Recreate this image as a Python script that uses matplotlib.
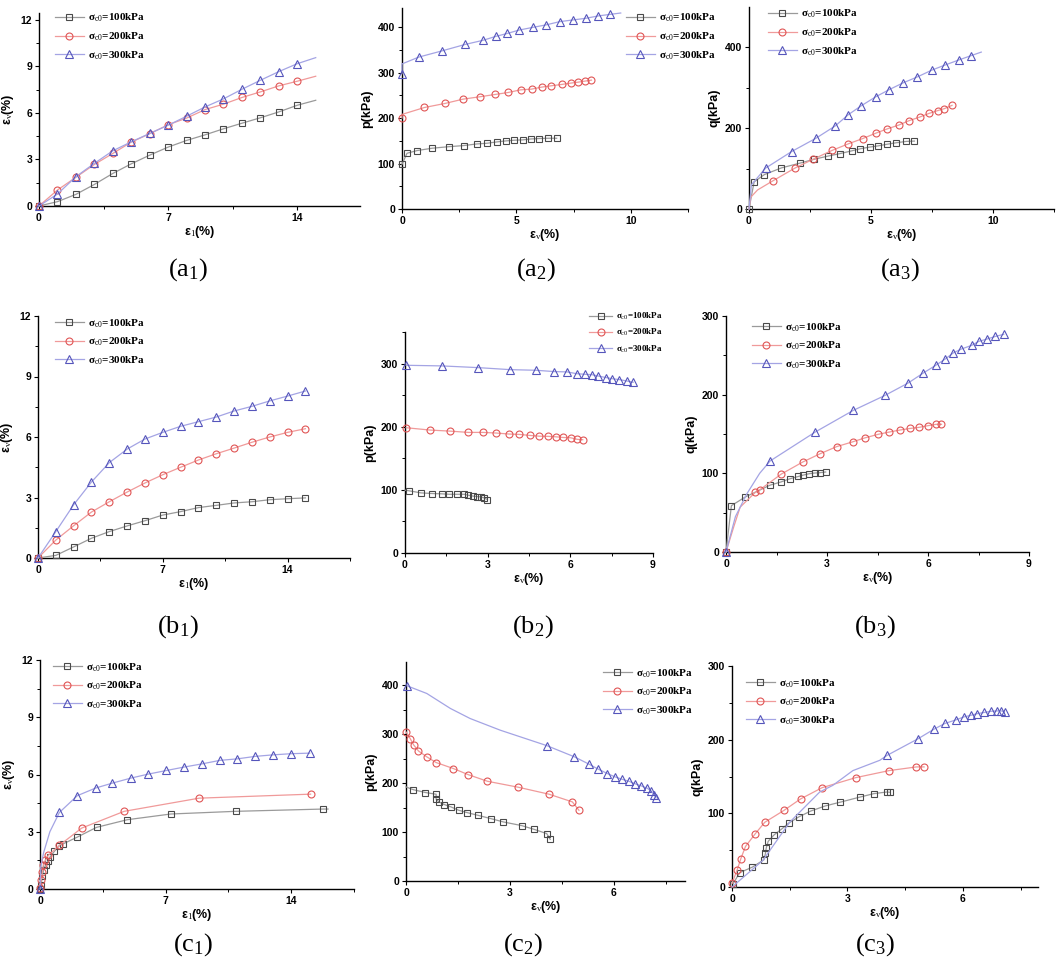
import matplotlib
matplotlib.use("Agg")
import matplotlib.pyplot as plt
from matplotlib.ticker import MultipleLocator

plt.rcParams['mathtext.fontset'] = 'custom'
plt.rcParams['mathtext.rm'] = 'Liberation Serif'
plt.rcParams['mathtext.it'] = 'Liberation Serif:italic'
plt.rcParams['mathtext.bf'] = 'Liberation Serif:bold'

# ---------------- data ----------------
labels = ["σ$_{\\rm c0}$=100kPa", "σ$_{\\rm c0}$=200kPa", "σ$_{\\rm c0}$=300kPa"]

# (a1) e1 - ev
a1_e1 = [0, 1, 2, 3, 4, 5, 6, 7, 8, 9, 10, 11, 12, 13, 14, 15]
a1_ev100 = [0, 0.28, 0.75, 1.39, 2.10, 2.72, 3.28, 3.80, 4.23, 4.59, 4.98, 5.34, 5.69, 6.07, 6.50, 6.82]
a1_ev200 = [0, 1.03, 1.85, 2.68, 3.39, 4.12, 4.66, 5.24, 5.67, 6.22, 6.57, 7.00, 7.36, 7.75, 8.05, 8.37]
a1_ev300 = [0, 0.77, 1.89, 2.75, 3.56, 4.14, 4.68, 5.21, 5.79, 6.39, 6.91, 7.53, 8.11, 8.67, 9.18, 9.57]

# (a2) ev - p
a2_ev100 = [0, 0.22, 0.66, 1.31, 2.04, 2.70, 3.26, 3.72, 4.16, 4.55, 4.89, 5.28, 5.62, 6.00, 6.39, 6.76]
a2_p100 = [98.5, 122.6, 128.5, 133.6, 137, 139.5, 143, 144.6, 147.6, 149.8, 151.2, 152, 154, 155, 155.6, 155.6]
a2_ev200 = [0, 0, 0.98, 1.87, 2.67, 3.39, 4.06, 4.64, 5.18, 5.66, 6.10, 6.53, 6.98, 7.37, 7.71, 7.99, 8.28]
a2_p200 = [200, 208, 223.2, 232, 241.6, 246.7, 251.8, 256.2, 262, 263.6, 268, 271, 273.9, 276.8, 279, 281.2, 283.4]
a2_ev300 = [0, 0, 0.73, 1.77, 2.77, 3.53, 4.10, 4.60, 5.12, 5.72, 6.31, 6.89, 7.47, 8.04, 8.58, 9.10, 9.56]
a2_p300 = [297.4, 319, 334, 348, 362, 370.8, 379.6, 386, 393.5, 399.4, 405, 412, 415.7, 419.4, 424.6, 428, 431]

# (a3) ev - q
a3_ev100 = [0, 0.21, 0.63, 1.33, 2.07, 2.68, 3.23, 3.74, 4.22, 4.56, 4.95, 5.30, 5.66, 6.03, 6.45, 6.78]
a3_q100 = [0, 67, 85, 101.6, 113, 123, 130.6, 137, 143.8, 148.8, 153, 156, 160, 163.6, 167, 167.8]
a3_ev200 = [0, 0.07, 0.35, 0.99, 1.88, 2.63, 3.40, 4.07, 4.66, 5.21, 5.67, 6.14, 6.55, 6.99, 7.37, 7.73, 8.01, 8.32]
a3_q200 = [0, 29, 47, 70, 101, 123, 144.6, 161, 174, 187.6, 198, 207.4, 218, 227, 236, 243, 248, 256]
a3_ev300 = [0, 0.10, 0.68, 1.75, 2.75, 3.53, 4.07, 4.60, 5.19, 5.75, 6.33, 6.89, 7.49, 8.05, 8.62, 9.11, 9.52]
a3_q300 = [0, 60, 101, 142, 175, 205, 233, 255, 277, 295, 312, 326, 343, 356, 368.6, 379, 387.6]

# (b1) e1 - ev
b1_e1 = [0, 1, 2, 3, 4, 5, 6, 7, 8, 9, 10, 11, 12, 13, 14, 15]
b1_ev100 = [0, 0.13, 0.55, 0.98, 1.31, 1.59, 1.85, 2.13, 2.30, 2.50, 2.61, 2.73, 2.79, 2.89, 2.94, 2.98]
b1_ev200 = [0, 0.89, 1.60, 2.28, 2.79, 3.27, 3.72, 4.13, 4.50, 4.86, 5.17, 5.45, 5.74, 6.00, 6.23, 6.41]
b1_ev300 = [0, 1.31, 2.64, 3.77, 4.73, 5.40, 5.90, 6.23, 6.53, 6.76, 6.99, 7.29, 7.52, 7.79, 8.03, 8.28]

# (b2) ev - p
b2_ev100 = [0, 0.16, 0.58, 0.98, 1.33, 1.61, 1.87, 2.15, 2.30, 2.48, 2.61, 2.74, 2.87, 2.99]
b2_p100 = [99.5, 98.4, 95.2, 94.2, 93.7, 93, 93, 93, 91.5, 90, 89.4, 88.9, 87.3, 84.7]
b2_ev200 = [0.04, 0.91, 1.64, 2.30, 2.82, 3.31, 3.77, 4.15, 4.53, 4.87, 5.20, 5.48, 5.73, 6.01, 6.25, 6.45]
b2_p200 = [198.4, 194.7, 193, 191, 191, 190, 188.4, 187.8, 186.2, 185, 184.7, 184, 183, 182.5, 180, 179.4]
b2_ev300 = [0.04, 1.33, 2.65, 3.81, 4.75, 5.42, 5.88, 6.23, 6.53, 6.77, 7.00, 7.30, 7.53, 7.78, 8.04, 8.28]
b2_p300 = [297.3, 296.3, 293.6, 290.4, 289.4, 287.3, 286.8, 284, 283, 282.5, 280.4, 277.8, 276, 274.6, 272.5, 270.4]

# (b3) ev - q
b3_ev100 = [0, 0.16, 0.57, 1.31, 1.63, 1.89, 2.15, 2.30, 2.48, 2.63, 2.78, 2.96]
b3_q100 = [0, 58.9, 69.9, 85, 89, 93, 96, 97.8, 99.6, 100.4, 100.8, 101.7]
b3_ev200 = [0, 0.23, 0.42, 0.87, 1.00, 1.64, 2.28, 2.80, 3.29, 3.76, 4.12, 4.52, 4.85, 5.16, 5.46, 5.74, 6.00, 6.24, 6.40]
b3_q200 = [0, 32, 57, 75.8, 79, 99, 114.4, 125, 134, 140, 145, 149.6, 152.5, 155, 157, 158.5, 160.6, 162.3, 162.3]
b3_ev300 = [0, 0.28, 0.62, 1.00, 1.31, 2.65, 3.78, 4.72, 5.41, 5.86, 6.23, 6.51, 6.75, 6.99, 7.30, 7.51, 7.76, 8.00, 8.25]
b3_q300 = [0, 45, 74, 100, 115.7, 152.5, 180, 199, 214.8, 227.5, 237.3, 245.3, 253, 258, 262.7, 267.8, 270.8, 274, 276.7]

# (c1) e1 - ev
c1_e1_100 = [0, 0.06, 0.13, 0.20, 0.32, 0.43, 0.56, 0.80, 1.08, 1.30, 2.08, 3.15, 4.86, 7.29, 10.9, 15.8, 16.05]
c1_ev100 = [0, 0.23, 0.66, 1.00, 1.27, 1.45, 1.68, 1.97, 2.27, 2.37, 2.72, 3.23, 3.63, 3.93, 4.07, 4.19, 4.19]
c1_e1_200 = [0, 0.07, 0.13, 0.19, 0.30, 0.46, 1.08, 2.32, 4.69, 8.87, 15.08]
c1_ev200 = [0.05, 0.49, 0.87, 1.27, 1.50, 1.76, 2.29, 3.19, 4.07, 4.76, 4.97]
c1_e1_300 = [0, 0.05, 0.20, 0.55, 1.08, 2.08, 3.10, 4.04, 5.06, 6.03, 7.05, 8.03, 9.05, 10.02, 11.0, 12.0, 12.99, 14.0, 15.03]
c1_ev300 = [0, 1.2, 1.9, 3.0, 4.01, 4.89, 5.29, 5.55, 5.81, 6.02, 6.21, 6.39, 6.56, 6.74, 6.82, 6.95, 7.03, 7.09, 7.12]

# (c2) ev - p
c2_ev100 = [0, 0.20, 0.56, 0.87, 0.87, 0.95, 1.11, 1.30, 1.52, 1.76, 2.07, 2.45, 2.81, 3.34, 3.69, 4.06, 4.16]
c2_p100 = [192.5, 187, 181, 177.5, 167.2, 161.8, 156.3, 151.5, 144.7, 140, 134.5, 127.6, 120.8, 113.3, 105.8, 97, 85.3]
c2_ev200 = [0, 0.12, 0.22, 0.36, 0.60, 0.87, 1.37, 1.79, 2.35, 3.24, 4.13, 4.80, 4.99]
c2_p200 = [305, 291.5, 278.5, 266, 254, 242.3, 230, 217.7, 204, 191.8, 177.5, 161.8, 144.7]
c2_ev300 = [0.03, 0.60, 1.28, 1.85, 2.72, 4.06, 4.86, 5.28, 5.55, 5.81, 6.03, 6.24, 6.43, 6.62, 6.79, 6.96, 7.08, 7.16, 7.21]
c2_p300 = [399.3, 383.6, 353, 332.4, 308.5, 277, 254, 239, 228.7, 219.8, 213, 208, 204, 198.6, 194.5, 189.8, 183.6, 176.8, 170]

# (c3) ev - q
c3_ev100 = [0.03, 0.20, 0.53, 0.83, 0.87, 0.89, 0.94, 1.09, 1.29, 1.48, 1.73, 2.04, 2.42, 2.80, 3.32, 3.68, 4.03, 4.11]
c3_q100 = [4.5, 19.5, 27, 37, 46, 53, 62, 70.6, 78.7, 87, 95, 103, 110, 115, 122, 126.7, 129, 128.5]
c3_ev200 = [0, 0.13, 0.23, 0.35, 0.60, 0.85, 1.35, 1.78, 2.34, 3.21, 4.08, 4.79, 4.99]
c3_q200 = [5, 22.6, 38.5, 55, 72, 87.8, 104, 119.5, 134.8, 148.4, 158, 163, 163]
c3_ev300 = [0, 0.8, 1.5, 2.28, 2.62, 3.14, 3.84, 4.03, 4.84, 5.24, 5.53, 5.81, 6.02, 6.20, 6.37, 6.56, 6.72, 6.88, 7.00, 7.08]
c3_q300 = [0, 36, 88, 129, 138, 158, 172, 178.7, 201.4, 214, 222, 226.7, 230.8, 233, 235.3, 237, 238.5, 239, 239, 237.6]

captions = ["a", "a", "a", "b", "b", "b", "c", "c", "c"]

# ---------------- style ----------------
W, H = 1059, 974
fig = plt.figure(figsize=(W / 100, H / 100), dpi=100)

line_cols = ['#9a9a9a', '#f09a9a', '#a4a4e4']
mark_cols = ['#4a4a4a', '#e05555', '#5555bb']
markers = ['s', 'o', '^']
TICKFONT = dict(family='Liberation Sans', weight='bold', size=7.5)


def px_axes(l, t, r, b):
    return fig.add_axes([l / W, 1 - b / H, (r - l) / W, (b - t) / H])


def marked(n, skip):
    return [i for i in range(n) if i not in skip]


def draw(ax, series, xlim, ylim, xmaj, ymaj, xlabel, ylabel, leg_px, leg_size=8.0):
    handles = []
    for k, (x, y, skip) in enumerate(series):
        h, = ax.plot(x, y, color=line_cols[k], lw=0.9, marker=markers[k],
                     markevery=marked(len(x), skip), ms=5 if k != 2 else 5.5,
                     mfc='none', mec=mark_cols[k], mew=0.8, label=labels[k],
                     clip_on=False, zorder=3)
        handles.append(h)
    ax.set_xlim(*xlim)
    ax.set_ylim(*ylim)
    for s in ['top', 'right']:
        ax.spines[s].set_visible(False)
    for s in ['left', 'bottom']:
        ax.spines[s].set_linewidth(1.0)
    ax.xaxis.set_major_locator(MultipleLocator(xmaj))
    ax.xaxis.set_minor_locator(MultipleLocator(xmaj / 2))
    ax.yaxis.set_major_locator(MultipleLocator(ymaj))
    ax.yaxis.set_minor_locator(MultipleLocator(ymaj / 2))
    ax.tick_params(which='major', direction='out', length=3, width=0.8, pad=2)
    ax.tick_params(which='minor', direction='out', length=2, width=0.7)
    for t in ax.get_xticklabels() + ax.get_yticklabels():
        t.set_fontproperties(matplotlib.font_manager.FontProperties(**TICKFONT))
    ax.set_xlabel(xlabel, fontsize=9, fontweight='bold', family='Liberation Sans', labelpad=1)
    ax.set_ylabel(ylabel, fontsize=9, fontweight='bold', family='Liberation Sans', labelpad=3)
    lx, ly = leg_px
    ax.legend(handles=handles, loc='upper left',
              bbox_to_anchor=(lx / W, 1 - ly / H), bbox_transform=fig.transFigure,
              frameon=False, prop=dict(family='Liberation Serif', weight='bold', size=leg_size),
              handlelength=2.6, handletextpad=0.4, labelspacing=0.55, borderpad=0, borderaxespad=0)


E1 = "ε$_{\\rm 1}$(%)"
EV = "ε$_{\\rm v}$(%)"

# Row a
ax = px_axes(39, 13, 360, 206)
draw(ax, [(a1_e1, a1_ev100, [15]), (a1_e1, a1_ev200, [15]), (a1_e1, a1_ev300, [15])],
     (0, 17.4), (0, 12.45), 7, 3, E1, EV, (55, 12))

ax = px_axes(402, 8, 688, 209)
draw(ax, [(a2_ev100, a2_p100, []), (a2_ev200, a2_p200, [1]), (a2_ev300, a2_p300, [1, 16])],
     (0, 12.5), (0, 442), 5, 100, EV, "p(kPa)", (626, 12))

ax = px_axes(749, 7, 1054, 209)
draw(ax, [(a3_ev100, a3_q100, []), (a3_ev200, a3_q200, [0, 1, 2]), (a3_ev300, a3_q300, [0, 1, 16])],
     (0, 12.5), (0, 499), 5, 200, EV, "q(kPa)", (768, 8))

# Row b
ax = px_axes(38, 316, 350, 558)
draw(ax, [(b1_e1, b1_ev100, []), (b1_e1, b1_ev200, []), (b1_e1, b1_ev300, [])],
     (0, 17.5), (0, 12), 7, 3, E1, EV, (55, 317))

ax = px_axes(405, 332, 653, 553)
draw(ax, [(b2_ev100, b2_p100, [0]), (b2_ev200, b2_p200, []), (b2_ev300, b2_p300, [])],
     (0, 9), (0, 350), 3, 100, EV, "p(kPa)", (589, 311), leg_size=6.5)

ax = px_axes(726, 316, 1029, 552)
draw(ax, [(b3_ev100, b3_q100, []), (b3_ev200, b3_q200, [1, 2]), (b3_ev300, b3_q300, [1, 2, 3])],
     (0, 9), (0, 300), 3, 100, EV, "q(kPa)", (752, 321))

# Row c
ax = px_axes(40, 660, 354, 889)
draw(ax, [(c1_e1_100, c1_ev100, [16]), (c1_e1_200, c1_ev200, []), (c1_e1_300, c1_ev300, [1, 2, 3])],
     (0, 17.5), (0, 12), 7, 3, E1, EV, (53, 661))

ax = px_axes(406, 662, 685, 881)
draw(ax, [(c2_ev100, c2_p100, [0]), (c2_ev200, c2_p200, []), (c2_ev300, c2_p300, [1, 2, 3, 4])],
     (0, 8.05), (0, 448), 3, 100, EV, "p(kPa)", (603, 667))

ax = px_axes(732, 666, 1038, 887)
draw(ax, [(c3_ev100, c3_q100, []), (c3_ev200, c3_q200, []), (c3_ev300, c3_q300, [0, 1, 2, 3, 4, 5, 6])],
     (0, 7.95), (0, 300), 3, 100, EV, "q(kPa)", (746, 677))

# captions
cap_pos = [(188, 270), (536, 270), (900, 270), (178, 627), (533, 627), (875, 627),
           (193, 945), (523, 945), (875, 945)]
for i, (cx, cy) in enumerate(cap_pos):
    fig.text(cx / W, 1 - cy / H, "(" + captions[i] + "$_{\\rm %d}$)" % (i % 3 + 1),
             ha='center', va='center', family='Liberation Serif', fontsize=19)

fig.savefig("out.png", dpi=100)
